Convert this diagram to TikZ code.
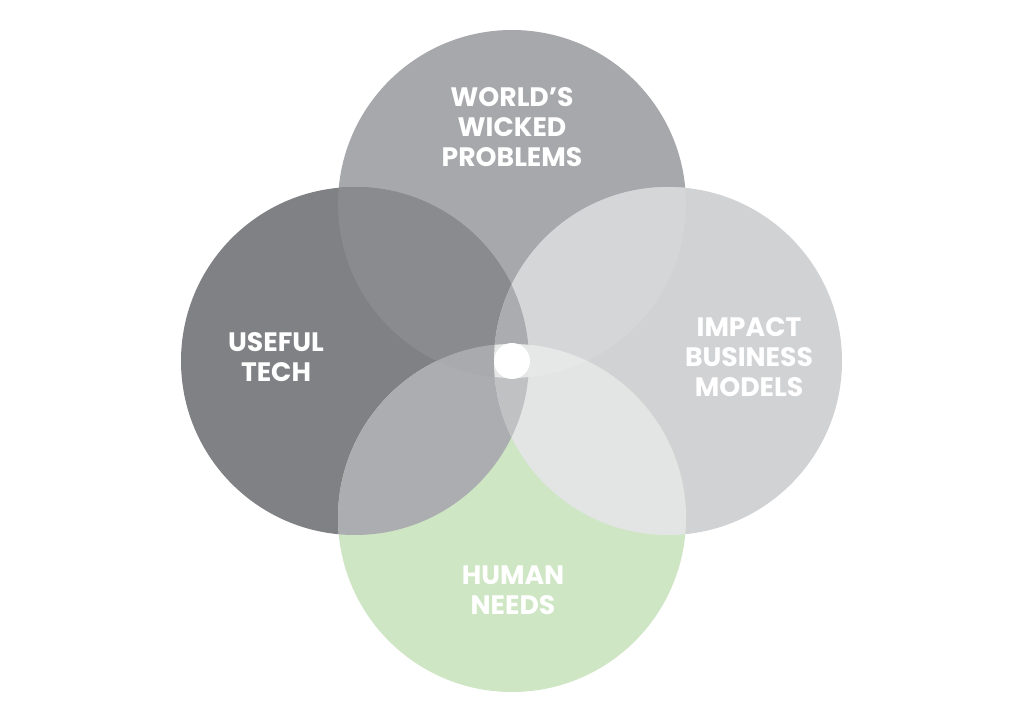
\documentclass[tikz,border=0pt]{standalone}
\usepackage{fontspec}
\setmainfont{Poppins}
\usetikzlibrary{positioning}

\definecolor{topfill}{HTML}{A7A8AB}
\definecolor{leftfill}{HTML}{808184}
\definecolor{rightfill}{HTML}{D1D2D4}
\definecolor{humanfill}{HTML}{CFE6C5}
\definecolor{topleftfill}{HTML}{8A8B8F}
\definecolor{toprightfill}{HTML}{D5D6D8}
\definecolor{leftbotfill}{HTML}{ACADB0}
\definecolor{rightbotfill}{HTML}{E3E4E4}
\definecolor{lensupfill}{HTML}{ABACAF}
\definecolor{lenslowfill}{HTML}{C0C1C3}
\definecolor{tlbfill}{HTML}{A9AAAD}
\definecolor{trbfill}{HTML}{E6E7E7}

\newcommand\vennr{174}

\begin{document}
\begin{tikzpicture}[
  x=0.75pt, y=-0.75pt,
  venn label/.style = {text=white, font=\bfseries\fontsize{20}{22.5}\selectfont, align=center, inner sep=0pt},
  ]
  \fill[white] (0,0) rectangle (1024,724);
  \useasboundingbox (0,0) rectangle (1024,724);
  \coordinate (world) at (512,204);
  \coordinate (tech) at (355,361);
  \coordinate (impact) at (668,361);
  \coordinate (human) at (512,518);
  % single circles
  \fill[topfill] (world) circle[radius=\vennr];
  \fill[leftfill] (tech) circle[radius=\vennr];
  \fill[rightfill] (impact) circle[radius=\vennr];
  \fill[humanfill] (human) circle[radius=\vennr];
  % pairs
  \begin{scope}
    \clip (world) circle[radius=\vennr];
    \fill[topleftfill] (tech) circle[radius=\vennr];
    \fill[toprightfill] (impact) circle[radius=\vennr];
  \end{scope}
  \begin{scope}
    \clip (human) circle[radius=\vennr];
    \fill[leftbotfill] (tech) circle[radius=\vennr];
    \fill[rightbotfill] (impact) circle[radius=\vennr];
  \end{scope}
  % triples
  \begin{scope}
    \clip (tech) circle[radius=\vennr];
    \clip (impact) circle[radius=\vennr];
    \fill[lensupfill] (world) circle[radius=\vennr];
    \fill[lenslowfill] (human) circle[radius=\vennr];
  \end{scope}
  \begin{scope}
    \clip (world) circle[radius=\vennr];
    \clip (human) circle[radius=\vennr];
    \fill[tlbfill] (tech) circle[radius=\vennr];
    \fill[trbfill] (impact) circle[radius=\vennr];
  \end{scope}
  \node[circle, fill=white, minimum size=36pt*0.75, inner sep=0pt] (hub) at (512,361) {};
  % labels
  \node[venn label] (worldlbl) at (512,127) {WORLD’S\\WICKED\\PROBLEMS};
  \node[venn label] (techlbl) at (276,357) {USEFUL\\TECH};
  \node[venn label] (impactlbl) at (749,357) {IMPACT\\BUSINESS\\MODELS};
  \node[venn label] (humanlbl) at (513,590) {HUMAN\\NEEDS};
\end{tikzpicture}
\end{document}
